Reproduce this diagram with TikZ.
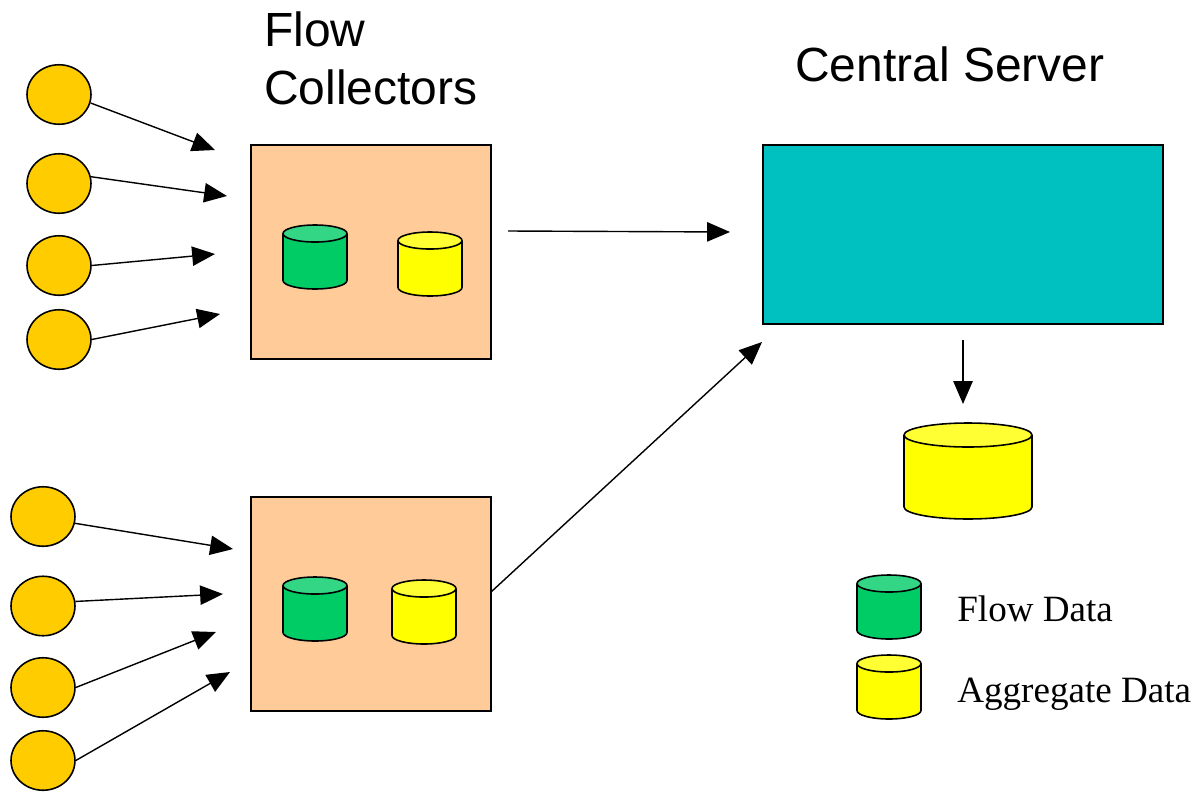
\documentclass[tikz,border=0pt]{standalone}
\usepackage{fontspec}
\setmainfont{Liberation Serif}
\newfontfamily\headfont{Liberation Sans}
\usetikzlibrary{arrows.meta,shapes.geometric}
\definecolor{exporter}{HTML}{FFCC00}
\definecolor{collector}{HTML}{FFCC99}
\definecolor{server}{HTML}{00C0C0}
\definecolor{flowbody}{HTML}{00CC66}
\definecolor{flowtop}{HTML}{33D685}
\definecolor{aggbody}{HTML}{FFFF00}
\definecolor{aggtop}{HTML}{FFFF33}
\tikzset{
    exporternode/.style={draw, ellipse, fill=exporter, line width=0.9pt, minimum width=1.28cm, minimum height=1.19cm, inner sep=0pt},
    collectorbox/.style={draw, rectangle, fill=collector, line width=0.9pt, minimum width=4.8cm, minimum height=4.28cm, inner sep=0pt},
    dbnode/.style={draw, cylinder, shape border rotate=90, anchor=shape center, cylinder uses custom fill, line width=0.9pt, inner xsep=0.64cm, inner ysep=0.2cm, minimum width=1.28cm, minimum height=1.28cm, aspect=0.266},
    flowdb/.style={dbnode, cylinder body fill=flowbody, cylinder end fill=flowtop},
    aggdb/.style={dbnode, cylinder body fill=aggbody, cylinder end fill=aggtop},
    link/.style={-{Triangle[length=13pt,width=11pt]}, line width=0.8pt},
    headlabel/.style={font=\headfont\fontsize{27.3}{32}\selectfont, anchor=base west, inner sep=0pt},
    keylabel/.style={font=\fontsize{21.1}{25}\selectfont, anchor=base west, inner sep=0pt}
}
\begin{document}
\begin{tikzpicture}[x=0.02cm, y=-0.02cm]
    \useasboundingbox (0,0) rectangle (1196,791);

    \node[headlabel] (flowtext) at (264,46) {Flow};
    \node[headlabel] (colltext) at (264,104) {Collectors};
    \node[headlabel] (servtext) at (795,81) {Central Server};

    \node[exporternode] (e1) at (59,94.5) {};
    \node[exporternode] (e2) at (59,183.5) {};
    \node[exporternode] (e3) at (59,265.5) {};
    \node[exporternode] (e4) at (59,339.5) {};
    \node[exporternode] (e5) at (43,516.5) {};
    \node[exporternode] (e6) at (43,606) {};
    \node[exporternode] (e7) at (43,687.5) {};
    \node[exporternode] (e8) at (43,760.5) {};

    \node[collectorbox] (c1) at (371,252) {};
    \node[collectorbox] (c2) at (371,604) {};
    \node[draw, rectangle, fill=server, line width=0.9pt, minimum width=8cm, minimum height=3.58cm, inner sep=0pt] (serv) at (963,234.5) {};

    \node[flowdb] (f1) at (315,257) {};
    \node[aggdb] (a1) at (430,264) {};
    \node[flowdb] (f2) at (315,609) {};
    \node[aggdb] (a2) at (424,612) {};
    \node[aggdb, inner xsep=1.28cm, minimum width=2.56cm, minimum height=1.92cm, aspect=0.1875] (store) at (968,471) {};
    \node[flowdb] (keyf) at (889,607) {};
    \node[aggdb] (keya) at (889,687) {};

    \node[keylabel] (keyftext) at (957,621) {Flow Data};
    \node[keylabel] (keyatext) at (957,702) {Aggregate Data};

    \coordinate (t1) at (215,150);
    \coordinate (t2) at (227,196);
    \coordinate (t3) at (215,254);
    \coordinate (t4) at (220,314);
    \coordinate (t5) at (233,549);
    \coordinate (t6) at (223,594);
    \coordinate (t7) at (216,632);
    \coordinate (t8) at (230,672);
    \coordinate (outs) at (508,231);
    \coordinate (oute) at (730,232);
    \coordinate (lowe) at (762,342);
    \coordinate (downs) at (963,340);
    \coordinate (downe) at (963,404);

    \draw[link] (e1.-15) -- (t1);
    \draw[link] (e2.12) -- (t2);
    \draw[link] (e3.east) -- (t3);
    \draw[link] (e4.east) -- (t4);
    \draw[link] (e5.-12) -- (t5);
    \draw[link] (e6.8) -- (t6);
    \draw[link] (e7.east) -- (t7);
    \draw[link] (e8.east) -- (t8);
    \draw[link] (outs) -- (oute);
    \draw[link] (c2.6) -- (lowe);
    \draw[link] (downs) -- (downe);
\end{tikzpicture}
\end{document}
